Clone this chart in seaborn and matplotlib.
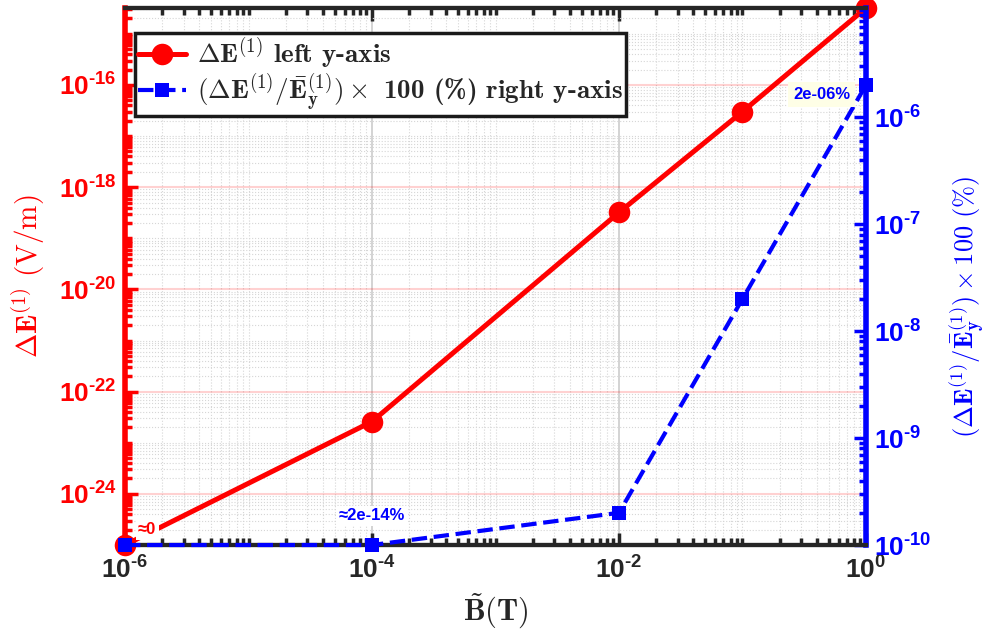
import numpy as np
import pandas as pd
import matplotlib
matplotlib.use('Agg')
import matplotlib.pyplot as plt
import seaborn as sns
from matplotlib.ticker import LogLocator, FuncFormatter, NullFormatter
from matplotlib.font_manager import FontProperties

# values
B = [1e-6, 1e-4, 1e-2, 1e-1, 1e0]
dE = [1e-25, 2.6e-23, 3.2e-19, 3.0e-17, 3.2e-15]   # left axis (V/m)
rel = [1e-10, 1e-10, 2e-10, 2e-8, 2e-6]           # right axis (%)
ann_texts = ['≈0', '≈2e-14%', '2e-06%']

df = pd.DataFrame({'B': B, 'dE': dE, 'rel': rel})

sns.set_style('white')
plt.rcParams['font.family'] = ['Liberation Sans', 'DejaVu Sans']
plt.rcParams['font.weight'] = 'bold'
plt.rcParams['mathtext.fontset'] = 'custom'
plt.rcParams['mathtext.bf'] = 'Liberation Sans:bold'
plt.rcParams['mathtext.rm'] = 'Liberation Sans:bold'

RED = '#ff0000'
BLUE = '#0000ff'
DARK = '#262626'

fig = plt.figure(figsize=(9.93, 6.43), dpi=100)
ax1 = fig.add_axes([0.1259, 0.1524, 0.7462, 0.8352])
ax1.set_xscale('log')
ax1.set_yscale('log')
ax2 = ax1.twinx()
ax2.set_yscale('log')

sns.lineplot(data=df, x='B', y='dE', ax=ax1, color=RED, lw=3.6, marker='o',
             markersize=15.5, markeredgewidth=0, clip_on=False, legend=False, zorder=5)
sns.lineplot(data=df, x='B', y='rel', ax=ax2, color=BLUE, lw=3, ls='--', dashes=(4, 2.5),
             marker='s', markersize=10, markeredgewidth=0, clip_on=False, legend=False, zorder=5)

ax1.set_xlim(1e-6, 1e0)
ax1.set_ylim(1e-25, 3.2e-15)
ax2.set_ylim(1e-10, 1.05e-5)

def sci_fmt(v, pos):
    e = int(round(np.log10(v)))
    s = str(abs(e))
    if e < 0:
        s = '\u2010' + s
    return r'$\mathbf{10^{%s}}$' % s

ax1.set_xticks([1e-6, 1e-4, 1e-2, 1e0])
ax1.set_yticks([1e-24, 1e-22, 1e-20, 1e-18, 1e-16])
ax2.set_yticks([1e-10, 1e-9, 1e-8, 1e-7, 1e-6])
for axis in (ax1.xaxis, ax1.yaxis, ax2.yaxis):
    axis.set_major_formatter(FuncFormatter(sci_fmt))
    axis.set_minor_locator(LogLocator(base=10, subs=np.arange(1, 10), numticks=100))
    axis.set_minor_formatter(NullFormatter())

ax1.tick_params(axis='x', which='both', direction='in', top=True, bottom=True,
                colors=DARK, labelsize=19, pad=8)
ax1.tick_params(axis='x', which='major', length=9, width=2.5)
ax1.tick_params(axis='x', which='minor', length=5, width=2.5)
ax1.tick_params(axis='y', which='both', direction='in', left=True, right=False,
                colors=RED, labelsize=19, pad=6)
ax1.tick_params(axis='y', which='major', length=9, width=2.5)
ax1.tick_params(axis='y', which='minor', length=5, width=2.5)
ax2.tick_params(axis='y', which='both', direction='in', right=True, left=False,
                colors=BLUE, labelsize=19, pad=6)
ax2.tick_params(axis='y', which='major', length=9, width=2.5)
ax2.tick_params(axis='y', which='minor', length=5, width=2.5)

# spines
for ax in (ax1, ax2):
    ax.spines['top'].set_color(DARK)
    ax.spines['bottom'].set_color(DARK)
    ax.spines['top'].set_linewidth(3)
    ax.spines['bottom'].set_linewidth(3)
ax1.spines['left'].set_color(RED)
ax1.spines['left'].set_linewidth(4)
ax1.spines['right'].set_visible(False)
ax2.spines['left'].set_visible(False)
ax2.spines['right'].set_color(BLUE)
ax2.spines['right'].set_linewidth(4)

# grid
ax1.set_axisbelow(True)
ax1.grid(True, which='minor', axis='both', ls=':', color='#d6d6d6', lw=0.8)
ax1.grid(True, which='major', axis='x', ls='-', color='#cccccc', lw=1.2)
ax1.grid(True, which='major', axis='y', ls='-', color=RED, alpha=0.18, lw=1.5)

# labels
ax1.set_xlabel(r'$\tilde{\mathbf{B}}(\mathbf{T})$', fontsize=22, color=DARK,
               math_fontfamily='cm', labelpad=6)
ax1.set_ylabel(r'$\mathbf{\Delta E}^{(\mathbf{1})}\ (\mathrm{V/m})$', fontsize=21,
               color=RED, math_fontfamily='cm', labelpad=8)
ax2.set_ylabel(r'$(\mathbf{\Delta E}^{(\mathbf{1})}/\bar{\mathbf{E}}_{\mathbf{y}}^{(\mathbf{1})})'
               r'\times\mathbf{100}\ (\%)$', fontsize=19, color=BLUE,
               math_fontfamily='cm', rotation=90)
ax2.yaxis.set_label_coords(1.11, 0.443)

# annotations
box_w = dict(boxstyle='square,pad=0.15', fc='white', ec='none')
box_y = dict(boxstyle='square,pad=0.3', fc='#fefee6', ec='none')
ax1.annotate(ann_texts[0], xy=(B[0], dE[0]), xytext=(16, 11), textcoords='offset points',
             ha='center', va='center', color=RED, fontsize=12, fontweight='bold',
             bbox=box_w, zorder=6, annotation_clip=False)
ax2.annotate(ann_texts[1], xy=(B[1], rel[1]), xytext=(0, 21), textcoords='offset points',
             ha='center', va='center', color=BLUE, fontsize=12, fontweight='bold',
             bbox=box_w, zorder=6)
ax2.annotate(ann_texts[2], xy=(B[4], rel[4]), xytext=(-32, -7), textcoords='offset points',
             ha='center', va='center', color=BLUE, fontsize=12, fontweight='bold',
             bbox=box_y, zorder=6, annotation_clip=False)

# legend
h1 = ax1.lines[0]
h2 = ax2.lines[0]
leg_font = FontProperties(family='cmb10', size=19.5, math_fontfamily='cm')
leg = ax2.legend([h1, h2],
                 [r'$\mathbf{\Delta E}^{(\mathbf{1})}$ left y-axis',
                  r'$(\mathbf{\Delta E}^{(\mathbf{1})}/\bar{\mathbf{E}}_{\mathbf{y}}^{(\mathbf{1})})'
                  r'\times$ 100 (%) right y-axis'],
                 loc='upper left', bbox_to_anchor=(0.0135, 0.953), borderaxespad=0,
                 prop=leg_font, frameon=True, fancybox=False, framealpha=1,
                 edgecolor='#1a1a1a', handlelength=1.8, handletextpad=0.4,
                 borderpad=0.1, labelspacing=0.0)
leg.get_frame().set_linewidth(2.5)
leg.set_zorder(10)

fig.savefig('out.png', dpi=100)
